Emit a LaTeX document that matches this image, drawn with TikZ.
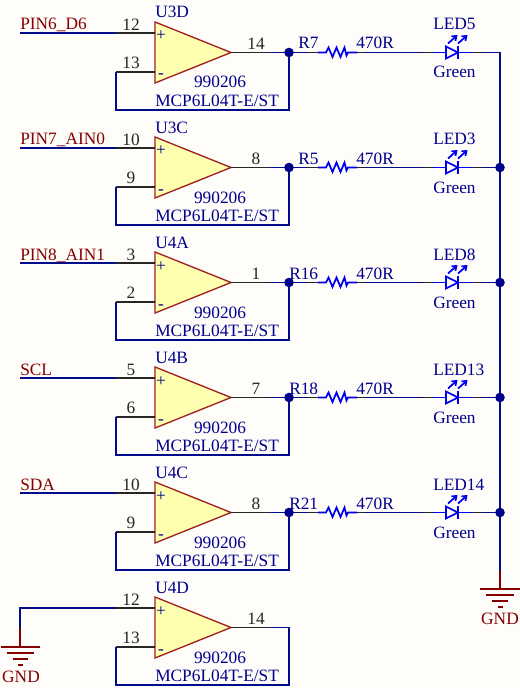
\documentclass[tikz,border=0pt]{standalone}
\usepackage{fontspec}
\setmainfont{Liberation Serif}
\usetikzlibrary{arrows.meta}
\definecolor{bgc}{HTML}{FFFDF9}
\definecolor{wirec}{HTML}{000C8C}
\definecolor{bluec}{HTML}{0000F0}
\definecolor{txtc}{HTML}{00008C}
\definecolor{redc}{HTML}{840000}
\definecolor{opfill}{HTML}{FFFFB0}
\definecolor{opline}{HTML}{A02020}
\tikzset{
  x=0.75pt,y=-0.75pt,
  wire/.style={draw=wirec,line width=1.3pt,line join=miter},
  pinline/.style={draw=black!85,line width=1.3pt},
  bluepart/.style={draw=bluec,line width=1.3pt},
  redline/.style={draw=redc,line width=1.3pt},
  opamp/.style={draw=opline,fill=opfill,line width=1pt,line join=miter},
  dotj/.style={circle,fill=txtc,inner sep=0pt,minimum size=7.2pt},
  lbl/.style={font=\fontsize{13}{14}\selectfont,text=txtc,inner sep=0pt,anchor=base west},
  lblc/.style={lbl,anchor=base},
  pinnum/.style={font=\fontsize{13}{14}\selectfont,text=black!85,inner sep=0pt,anchor=base},
  netl/.style={font=\fontsize{13}{14}\selectfont,text=redc,inner sep=0pt,anchor=base west},
  gndl/.style={netl,anchor=base},
}
% #1 row id, #2 y offset, #3 part, #4 pin+, #5 pin-, #6 pin out
\newcommand{\oprow}[6]{
  \begin{scope}[shift={(0,#2)}]
    \coordinate (i#1) at (116,33);
    \coordinate (ip#1) at (155,33);
    \coordinate (n#1) at (116,72);
    \coordinate (np#1) at (155,72);
    \coordinate (o#1) at (231,52.5);
    \coordinate (oe#1) at (270,52.5);
    \coordinate (j#1) at (289,52.5);
    \coordinate (b#1) at (289,110);
    \coordinate (c#1) at (116,110);
    \draw[opamp] (155,22) -- (231,52.5) -- (155,83) -- cycle;
    \draw[pinline] (i#1) -- (ip#1);
    \draw[pinline] (n#1) -- (np#1);
    \draw[pinline] (o#1) -- (oe#1);
    \draw[wire] (oe#1) -- (j#1) -- (b#1) -- (c#1) -- (n#1);
    \node[lbl] (part#1) at (155,18) {#3};
    \node[pinnum] (pa#1) at (131,30.5) {#4};
    \node[pinnum] (pb#1) at (131,68.5) {#5};
    \node[pinnum] (pc#1) at (256,49.5) {#6};
    \node[lblc] (plus#1) at (161,41) {\fontsize{13}{14}\selectfont +};
    \node[lblc] (minus#1) at (161,79) {\fontsize{13}{14}\selectfont -};
    \node[lblc] (date#1) at (220,88) {990206};
    \node[lbl] (mpn#1) at (155,106.5) {MCP6L04T-E/ST};
  \end{scope}
}
% #1 row id, #2 y offset, #3 R name, #4 R x, #5 LED name
\newcommand{\ledrow}[5]{
  \begin{scope}[shift={(0,#2)}]
    \coordinate (ra#1) at (308,52.5);
    \coordinate (rb#1) at (318,52.5);
    \coordinate (rc#1) at (348,52.5);
    \coordinate (rd#1) at (357,52.5);
    \coordinate (re#1) at (365,52.5);
    \coordinate (la#1) at (423,52.5);
    \coordinate (lb#1) at (433,52.5);
    \coordinate (lc#1) at (472,52.5);
    \coordinate (ld#1) at (482,52.5);
    \coordinate (rail#1) at (500,52.5);
    \draw[wire] (j#1) -- (ra#1);
    \draw[pinline] (ra#1) -- (rb#1);
    \draw[bluepart,line join=miter] (rb#1) -- (326,52.5) -- (328.5,47.5) -- (332.5,57) -- (336.5,47.5) -- (340.5,57) -- (344.5,47.5) -- (346.5,55.5) -- (rc#1) -- (rd#1);
    \draw[pinline] (rd#1) -- (re#1);
    \draw[wire] (re#1) -- (la#1);
    \draw[pinline] (la#1) -- (lb#1);
    \draw[bluepart] (lb#1) -- (446,52.5);
    \draw[bluepart,line join=miter] (446,46.5) -- (458,52.5) -- (446,58.5) -- cycle;
    \draw[bluepart] (458,46) -- (458,59);
    \draw[bluepart] (458,52.5) -- (lc#1);
    \draw[pinline] (lc#1) -- (ld#1);
    \draw[wire] (ld#1) -- (rail#1);
    \draw[bluepart,-{Straight Barb[length=3pt,width=4.5pt]}] (448,43.5) -- (457.5,35);
    \draw[bluepart,-{Straight Barb[length=3pt,width=4.5pt]}] (458,43.5) -- (467.5,35);
    \node[lbl] (rn#1) at (#4,49) {#3};
    \node[lbl] (rv#1) at (356,49) {470R};
    \node[lbl] (ln#1) at (433,30) {#5};
    \node[lbl] (lv#1) at (433,78) {Green};
  \end{scope}
}
\begin{document}
\begin{tikzpicture}
\path[fill=bgc,use as bounding box] (0,0) rectangle (520,688);
\oprow{a}{0}{U3D}{12}{13}{14}
\oprow{b}{115}{U3C}{10}{9}{8}
\oprow{c}{230}{U4A}{3}{2}{1}
\oprow{d}{345}{U4B}{5}{6}{7}
\oprow{e}{460}{U4C}{10}{9}{8}
\oprow{f}{575}{U4D}{12}{13}{14}
\ledrow{a}{0}{R7}{298}{LED5}
\ledrow{b}{115}{R5}{298}{LED3}
\ledrow{c}{230}{R16}{289}{LED8}
\ledrow{d}{345}{R18}{289}{LED13}
\ledrow{e}{460}{R21}{289}{LED14}
% net inputs
\foreach \r/\t/\yy in {a/PIN6\_D6/0,b/PIN7\_AIN0/115,c/PIN8\_AIN1/230,d/SCL/345,e/SDA/460}{
  \coordinate (s\r) at (20,33+\yy);
  \draw[wire] (s\r) -- (i\r);
  \node[netl] (net\r) at (20,30+\yy) {\t};
}
% right rail to ground
\coordinate (gr1) at (500,571);
\coordinate (gr2) at (500,589);
\draw[wire] (raila) -- (gr1);
\draw[redline] (gr1) -- (gr2);
\coordinate (gr3) at (480,589); \coordinate (gr4) at (520,589);
\coordinate (gr5) at (486,595); \coordinate (gr6) at (514,595);
\coordinate (gr7) at (492,601); \coordinate (gr8) at (508,601);
\coordinate (gr9) at (498,607); \coordinate (gr10) at (503,607);
\draw[redline] (gr3) -- (gr4) (gr5) -- (gr6) (gr7) -- (gr8) (gr9) -- (gr10);
\node[gndl] (gndr) at (500,624) {GND};
% left ground
\coordinate (gl0) at (20,608);
\coordinate (gl1) at (20,628);
\coordinate (gl2) at (20,647);
\draw[wire] (if) -- (gl0) -- (gl1);
\draw[redline] (gl1) -- (gl2);
\coordinate (gl3) at (1,647); \coordinate (gl4) at (40,647);
\coordinate (gl5) at (7,653); \coordinate (gl6) at (34,653);
\coordinate (gl7) at (13,659); \coordinate (gl8) at (28,659);
\coordinate (gl9) at (18,665); \coordinate (gl10) at (23,665);
\draw[redline] (gl3) -- (gl4) (gl5) -- (gl6) (gl7) -- (gl8) (gl9) -- (gl10);
\node[gndl] (gndl) at (21,682) {GND};
% junctions
\foreach \r in {a,b,c,d,e}{\node[dotj] (dl\r) at (j\r) {};}
\foreach \r in {b,c,d,e}{\node[dotj] (dr\r) at (rail\r) {};}
\end{tikzpicture}
\end{document}
